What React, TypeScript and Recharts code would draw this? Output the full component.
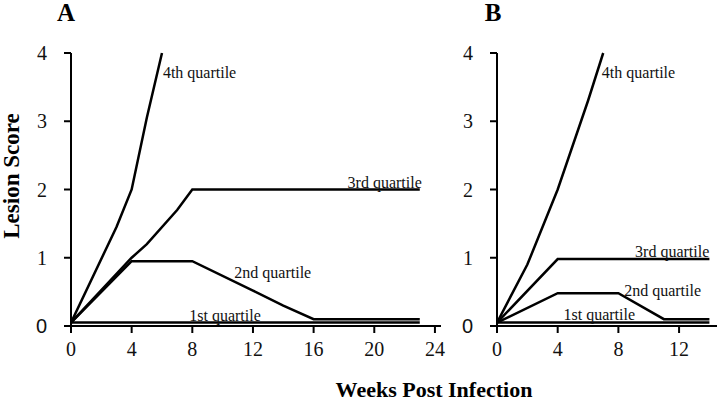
import React from 'react';
import { LineChart, Line, XAxis, YAxis, ReferenceDot } from 'recharts';

// Panel A (weeks 0–24)
const a4Weeks = [0, 3, 4, 5, 6];
const a4Score = [0.05, 1.45, 2.0, 3.05, 4.0];
const a3Weeks = [0, 4, 5, 7, 8, 23];
const a3Score = [0.05, 1.0, 1.2, 1.7, 2.0, 2.0];
const a2Weeks = [0, 4, 8, 12, 14, 16, 23];
const a2Score = [0.05, 0.95, 0.95, 0.52, 0.3, 0.1, 0.1];
const a1Weeks = [0, 23];
const a1Score = [0.05, 0.05];
const aTicks = [0, 4, 8, 12, 16, 20, 24];

// Panel B (weeks 0–14)
const b4Weeks = [0, 2, 4, 6, 7];
const b4Score = [0.05, 0.9, 2.0, 3.3, 4.0];
const b3Weeks = [0, 4, 14];
const b3Score = [0.05, 0.98, 0.98];
const b2Weeks = [0, 4, 8, 11, 14];
const b2Score = [0.05, 0.48, 0.48, 0.1, 0.1];
const b1Weeks = [0, 14];
const b1Score = [0.05, 0.05];
const bTicks = [0, 4, 8, 12];

const yTicks = [0, 1, 2, 3, 4];
const quartileNames = ['1st quartile', '2nd quartile', '3rd quartile', '4th quartile'];

// label anchor points (data coordinates) [week, score]
const aLabelPos = [[7.8, 0.16], [10.77, 0.78], [18.24, 2.11], [6.06, 3.72]];
const bLabelPos = [[4.38, 0.17], [8.38, 0.52], [9.1, 1.1], [6.91, 3.72]];

const pts = (w: number[], s: number[]) => w.map((x, i) => ({ week: x, score: s[i] }));

const SERIF = "'Liberation Serif', 'Times New Roman', serif";
const SANS = "'Liberation Sans', Arial, sans-serif";
const axisStroke = { stroke: '#000', strokeWidth: 2 };

const XTick = (p: any) => (
  <text x={p.x} y={p.y} dy="0.71em" textAnchor="middle" fontFamily={SERIF} fontSize={20} fill="#111">
    {p.payload.value}
  </text>
);
const YTick = (p: any) => (
  <text
    x={p.x}
    y={p.y}
    dy="0.35em"
    textAnchor="end"
    fontFamily={p.payload.value === 0 ? SANS : SERIF}
    fontSize={20}
    fill="#111"
  >
    {p.payload.value}
  </text>
);

function Panel(props: {
  width: number;
  marginRight: number;
  domainMax: number;
  xTicks: number[];
  series: { week: number; score: number }[][];
  labels: number[][];
}) {
  const { width, marginRight, domainMax, xTicks, series, labels } = props;
  return (
    <LineChart width={width} height={401} margin={{ top: 53, right: marginRight, bottom: 45, left: 0 }}>
      <XAxis
        type="number"
        dataKey="week"
        domain={[0, domainMax]}
        ticks={xTicks}
        allowDataOverflow
        axisLine={axisStroke}
        tickLine={axisStroke}
        tickSize={7}
        tickMargin={9}
        tick={<XTick />}
        height={30}
      />
      <YAxis
        type="number"
        dataKey="score"
        domain={[0, 4]}
        ticks={yTicks}
        axisLine={axisStroke}
        tickLine={axisStroke}
        tickSize={7}
        tickMargin={17}
        tick={<YTick />}
        width={71}
      />
      {series.map((d, i) => (
        <Line
          key={i}
          data={d}
          dataKey="score"
          type="linear"
          stroke="#000"
          strokeWidth={2.5}
          dot={false}
          isAnimationActive={false}
        />
      ))}
      {labels.map((p, i) => (
        <ReferenceDot
          key={'l' + i}
          x={p[0]}
          y={p[1]}
          r={0}
          fill="none"
          stroke="none"
          label={{
            value: quartileNames[i],
            position: 'right',
            offset: 0,
            fill: '#111',
            fontSize: 16,
            fontFamily: SERIF,
          }}
        />
      ))}
    </LineChart>
  );
}

export default function App() {
  const seriesA = [pts(a1Weeks, a1Score), pts(a2Weeks, a2Score), pts(a3Weeks, a3Score), pts(a4Weeks, a4Score)];
  const seriesB = [pts(b1Weeks, b1Score), pts(b2Weeks, b2Score), pts(b3Weeks, b3Score), pts(b4Weeks, b4Score)];
  return (
    <div style={{ position: 'absolute', left: 0, top: 0, width: 720, height: 401, background: '#fff', overflow: 'hidden' }}>
      <div style={{ position: 'absolute', left: 0, top: 0 }}>
        <Panel width={450} marginRight={9} domainMax={24.4} xTicks={aTicks} series={seriesA} labels={aLabelPos} />
      </div>
      <div style={{ position: 'absolute', left: 426, top: 0 }}>
        <Panel width={294} marginRight={3} domainMax={14.5} xTicks={bTicks} series={seriesB} labels={bLabelPos} />
      </div>
      <svg width={720} height={401} style={{ position: 'absolute', left: 0, top: 0, pointerEvents: 'none' }}>
        <text x={66} y={21} textAnchor="middle" fontFamily={SERIF} fontWeight="bold" fontSize={25} fill="#000">A</text>
        <text x={493} y={21} textAnchor="middle" fontFamily={SERIF} fontWeight="bold" fontSize={25} fill="#000">B</text>
        <text
          x={0}
          y={0}
          transform="translate(19,176) rotate(-90)"
          textAnchor="middle"
          fontFamily={SERIF}
          fontWeight="bold"
          fontSize={23}
          fill="#000"
        >
          Lesion Score
        </text>
        <text x={434} y={397} textAnchor="middle" fontFamily={SERIF} fontWeight="bold" fontSize={22} fill="#000">
          Weeks Post Infection
        </text>
      </svg>
    </div>
  );
}
